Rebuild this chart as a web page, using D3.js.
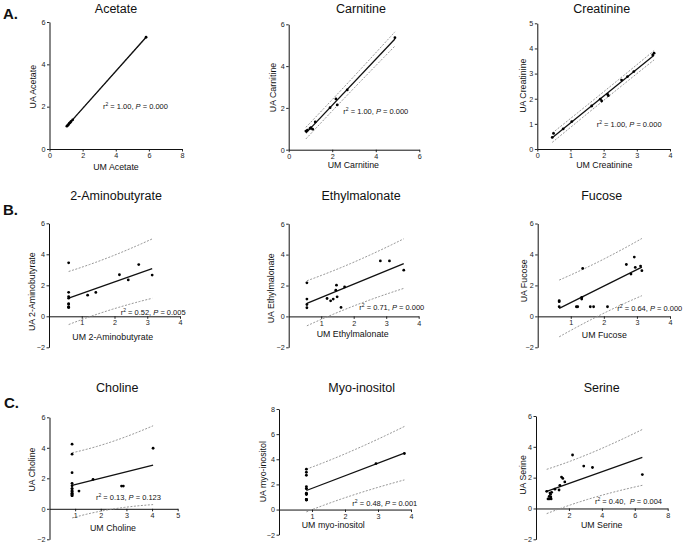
<!DOCTYPE html>
<html>
<head>
<meta charset="utf-8">
<script src="https://cdn.jsdelivr.net/npm/d3@7"></script>
<style>
  html, body { margin: 0; padding: 0; background: #fff; }
  svg { display: block; font-family: "Liberation Sans", Arial, Helvetica, sans-serif; }
</style>
</head>
<body>
<svg id="chart" width="683" height="545"></svg>
<script>
// ---------------- DATA ----------------
const titles = ["Acetate", "Carnitine", "Creatinine", "2-Aminobutyrate", "Ethylmalonate", "Fucose", "Choline", "Myo-inositol", "Serine"];
const xLabels = ["UM Acetate", "UM Carnitine", "UM Creatinine", "UM 2-Aminobutyrate", "UM Ethylmalonate", "UM Fucose", "UM Choline", "UM myo-inositol", "UM Serine"];
const yLabels = ["UA Acetate", "UA Carnitine", "UA Creatinine", "UA 2-Aminobutyrate", "UA Ethylmalonate", "UA Fucose", "UA Choline", "UA myo-inositol", "UA Serine"];
const rSquared = ["1.00", "1.00", "1.00", "0.52", "0.71", "0.64", "0.13", "0.48", "0.40"];
const pValues  = ["0.000", "0.000", "0.000", "0.005", "0.000", "0.000", "0.123", "0.001", "0.004"];
const statSeparators = [", ", ", ", ", ", ", ", ", ", ", ", ", ", ", ", ",  "];
const panelLetters = ["A.", "B.", "C."];

const acetateX = [1.05, 1.1, 1.15, 1.2, 1.25, 1.3, 1.4, 5.83];
const acetateY = [1.08, 1.12, 1.16, 1.22, 1.25, 1.30, 1.38, 5.28];
const carnitineX = [0.79, 0.86, 0.98, 1.02, 1.10, 1.22, 1.90, 2.17, 2.23, 2.69, 4.88];
const carnitineY = [0.89, 0.94, 1.02, 1.05, 0.98, 1.33, 2.01, 2.43, 2.14, 2.86, 5.36];
const creatinineX = [0.45, 0.49, 0.78, 1.04, 1.64, 1.90, 1.94, 2.12, 2.14, 2.54, 2.72, 2.91, 3.48, 3.52];
const creatinineY = [0.46, 0.62, 0.80, 1.09, 1.71, 1.98, 1.91, 2.17, 2.12, 2.74, 2.88, 3.08, 3.74, 3.81];
const aminobutyrateX = [0.6, 0.6, 0.6, 0.6, 0.6, 0.6, 0.6, 0.6, 0.6, 1.18, 1.43, 2.15, 2.42, 2.74, 3.15];
const aminobutyrateY = [3.45, 1.55, 1.27, 1.17, 0.80, 0.57, 0.57, 0.62, 0.80, 1.36, 1.54, 2.68, 2.35, 3.34, 2.66];
const ethylmalonateX = [0.56, 0.56, 0.56, 0.56, 1.18, 1.29, 1.37, 1.47, 1.45, 1.49, 1.72, 1.61, 2.82, 3.10, 3.54];
const ethylmalonateY = [2.17, 1.12, 0.77, 0.56, 1.16, 1.01, 1.12, 2.02, 1.70, 1.27, 1.91, 0.58, 3.59, 3.59, 2.99];
const fucoseX = [0.65, 0.65, 0.65, 1.17, 1.21, 1.33, 1.33, 1.36, 1.59, 1.69, 2.11, 2.68, 2.82, 2.92, 2.95, 3.11, 3.15];
const fucoseY = [1.01, 0.95, 0.62, 0.62, 0.62, 1.12, 1.23, 3.10, 0.62, 0.62, 0.62, 3.35, 2.73, 3.83, 3.16, 3.25, 2.95];
const cholineX = [0.88, 0.88, 0.88, 0.88, 0.88, 0.88, 0.88, 0.88, 0.88, 0.88, 0.88, 0.88, 0.88, 0.88, 0.88, 1.15, 1.70, 2.81, 2.88, 4.04];
const cholineY = [4.24, 3.58, 2.37, 1.67, 1.51, 1.32, 1.16, 1.01, 0.86, 0.86, 1.01, 1.16, 0.95, 1.10, 1.32, 1.16, 1.93, 1.49, 1.49, 3.97];
const myoInositolX = [0.83, 0.83, 0.83, 0.83, 0.83, 0.83, 0.83, 0.83, 0.83, 0.83, 0.83, 0.83, 0.83, 0.83, 0.83, 0.83, 2.94, 3.80];
const myoInositolY = [3.21, 2.97, 2.73, 1.83, 1.67, 1.25, 0.77, 0.77, 0.80, 1.25, 1.20, 1.67, 1.25, 0.80, 0.77, 1.30, 3.66, 4.46];
const serineX = [0.65, 0.73, 0.80, 0.80, 0.85, 0.88, 0.90, 0.92, 0.95, 1.15, 1.40, 1.45, 1.55, 1.63, 1.75, 2.22, 2.90, 3.43, 6.46];
const serineY = [1.11, 0.62, 0.78, 0.62, 1.00, 0.92, 0.75, 0.62, 1.05, 1.25, 1.20, 1.50, 2.04, 1.95, 1.72, 3.47, 2.75, 2.66, 2.20];

const seriesX = [acetateX, carnitineX, creatinineX, aminobutyrateX, ethylmalonateX, fucoseX, cholineX, myoInositolX, serineX];
const seriesY = [acetateY, carnitineY, creatinineY, aminobutyrateY, ethylmalonateY, fucoseY, cholineY, myoInositolY, serineY];

const xDomains = [[0, 8], [0, 6], [0, 4], [0, 4], [0, 4], [0, 4], [0, 5], [0, 4], [0, 8]];
const yDomains = [[0, 6], [0, 6], [0, 5], [-2, 6], [-2, 6], [-2, 6], [-2, 6], [-2, 8], [-2, 6]];
const xTicks = [[0, 2, 4, 6, 8], [0, 2, 4, 6], [0, 1, 2, 3, 4], [1, 2, 3, 4], [1, 2, 3, 4], [1, 2, 3, 4], [1, 2, 3, 4, 5], [1, 2, 3, 4], [2, 4, 6, 8]];
const yTicks = [[0, 2, 4, 6], [0, 2, 4, 6], [0, 1, 2, 3, 4, 5], [-2, 0, 2, 4, 6], [-2, 0, 2, 4, 6], [-2, 0, 2, 4, 6], [-2, 0, 2, 4, 6], [-2, 0, 2, 4, 6, 8], [-2, 0, 2, 4, 6]];

// t quantiles (two-sided 95%) by degrees of freedom
const t95 = [NaN, 12.706, 4.303, 3.182, 2.776, 2.571, 2.447, 2.365, 2.306, 2.262, 2.228, 2.201, 2.179, 2.160, 2.145, 2.131, 2.120, 2.110, 2.101, 2.093, 2.086];

// ---------------- LAYOUT ----------------
const plotBoxes = [
  {l: 49.5, r: 182, t: 22, b: 149},
  {l: 288.7, r: 419.3, t: 24.3, b: 149.7},
  {l: 537.3, r: 670, t: 23.3, b: 149},
  {l: 49, r: 180, t: 223.3, b: 347.3},
  {l: 288.7, r: 418.7, t: 223.7, b: 347.3},
  {l: 537.7, r: 670, t: 223.5, b: 347.3},
  {l: 49.5, r: 177.7, t: 417.3, b: 539.3},
  {l: 279, r: 411, t: 409, b: 534.7},
  {l: 536, r: 667.7, t: 416, b: 539.3}
];
const titlePos = [[116, 12.5], [361, 12.5], [601.7, 12.5], [116, 200], [361, 200], [601.7, 200], [117.3, 392], [361.7, 392], [601.7, 392]];
const xLabelPos = [[116, 170], [353.3, 167.5], [604.3, 168], [112.7, 339.7], [352.7, 337], [604.3, 338], [113, 530.7], [333.3, 528], [601.7, 528]];
const yLabelPos = [[33.3, 86.7], [273.3, 87.5], [523.3, 85.7], [32.3, 291.7], [270.7, 288.3], [524, 280.8], [32.3, 469.5], [263.3, 471.7], [523.3, 475]];
const statPos = [[103, 108.5], [343.3, 113.5], [596.7, 127], [120.7, 315], [359.3, 310.3], [617.3, 311], [96, 500], [352.3, 506], [595, 504.3]];
const letterPos = [[3, 18.5], [3, 215], [4, 407.5]];

// ---------------- DRAW ----------------
const svg = d3.select("#chart");

panelLetters.forEach((L, i) => {
  svg.append("text").attr("x", letterPos[i][0]).attr("y", letterPos[i][1])
    .attr("font-size", 15).attr("font-weight", "bold").attr("fill", "#111").text(L);
});

function linreg(xs, ys) {
  const n = xs.length;
  const mx = d3.mean(xs), my = d3.mean(ys);
  let sxx = 0, sxy = 0;
  for (let i = 0; i < n; i++) { sxx += (xs[i] - mx) ** 2; sxy += (xs[i] - mx) * (ys[i] - my); }
  const slope = sxy / sxx, icpt = my - slope * mx;
  let sse = 0;
  for (let i = 0; i < n; i++) sse += (ys[i] - (icpt + slope * xs[i])) ** 2;
  const s = Math.sqrt(sse / (n - 2));
  const t = t95[Math.min(n - 2, t95.length - 1)];
  return {n, mx, sxx, slope, icpt, s, t};
}

titles.forEach((title, i) => {
  const box = plotBoxes[i];
  const x = d3.scaleLinear().domain(xDomains[i]).range([box.l, box.r]);
  const y = d3.scaleLinear().domain(yDomains[i]).range([box.b, box.t]);
  const g = svg.append("g");

  svg.append("text").attr("x", titlePos[i][0]).attr("y", titlePos[i][1])
    .attr("text-anchor", "middle").attr("font-size", 12.5).attr("fill", "#111").text(title);

  const xAxis = d3.axisBottom(x).tickValues(xTicks[i]).tickSize(2.5).tickPadding(1.5).tickSizeOuter(0)
    .tickFormat(d3.format("d"));
  const xg = g.append("g").attr("transform", `translate(0,${y(0)})`).call(xAxis);
  const yAxis = d3.axisLeft(y).tickValues(yTicks[i]).tickSize(2.5).tickPadding(1.5).tickSizeOuter(0)
    .tickFormat(d3.format("d"));
  const yg = g.append("g").attr("transform", `translate(${x(0)},0)`).call(yAxis);
  [xg, yg].forEach(ax => {
    ax.select(".domain").attr("stroke", "#111").attr("stroke-width", 1);
    ax.selectAll(".tick line").attr("stroke", "#111").attr("stroke-width", 0.9);
    ax.selectAll(".tick text").attr("font-size", 7.2).attr("fill", "#222")
      .attr("font-family", "Liberation Sans, Arial, sans-serif");
  });

  // regression and 95% prediction band
  const xs = seriesX[i], ys = seriesY[i];
  const fit = linreg(xs, ys);
  const x0 = d3.min(xs), x1 = d3.max(xs);
  const samples = d3.range(0, 41).map(k => x0 + (x1 - x0) * k / 40);
  const half = xv => fit.t * fit.s * Math.sqrt(1 + 1 / fit.n + (xv - fit.mx) ** 2 / fit.sxx);
  const line = d3.line().x(d => x(d[0])).y(d => y(d[1]));
  const upper = samples.map(v => [v, fit.icpt + fit.slope * v + half(v)]);
  const lower = samples.map(v => [v, fit.icpt + fit.slope * v - half(v)]);
  [upper, lower].forEach(band => {
    g.append("path").attr("d", line(band)).attr("fill", "none")
      .attr("stroke", "#8a8a8a").attr("stroke-width", 0.9).attr("stroke-dasharray", "2,1.5");
  });
  g.append("path").attr("d", line([[x0, fit.icpt + fit.slope * x0], [x1, fit.icpt + fit.slope * x1]]))
    .attr("fill", "none").attr("stroke", "#111").attr("stroke-width", 1.3);

  g.selectAll("circle.pt").data(xs.map((v, k) => [v, ys[k]])).enter().append("circle")
    .attr("cx", d => x(d[0])).attr("cy", d => y(d[1])).attr("r", 1.4).attr("fill", "#000");

  svg.append("text").attr("x", xLabelPos[i][0]).attr("y", xLabelPos[i][1])
    .attr("text-anchor", "middle").attr("font-size", 8.8).attr("fill", "#111").text(xLabels[i]);
  svg.append("text")
    .attr("transform", `translate(${yLabelPos[i][0]},${yLabelPos[i][1]}) rotate(-90)`)
    .attr("text-anchor", "middle").attr("dy", "0.35em").attr("font-size", 8.8).attr("fill", "#111").text(yLabels[i]);

  const st = svg.append("text").attr("x", statPos[i][0]).attr("y", statPos[i][1])
    .attr("font-size", 7.5).attr("fill", "#111").style("white-space", "pre");
  st.append("tspan").text("r");
  st.append("tspan").attr("font-size", 5).attr("dy", -3).text("2");
  st.append("tspan").attr("dy", 3).text(` = ${rSquared[i]}${statSeparators[i]}`);
  st.append("tspan").attr("font-style", "italic").text("P");
  st.append("tspan").text(` = ${pValues[i]}`);
});
</script>
</body>
</html>
